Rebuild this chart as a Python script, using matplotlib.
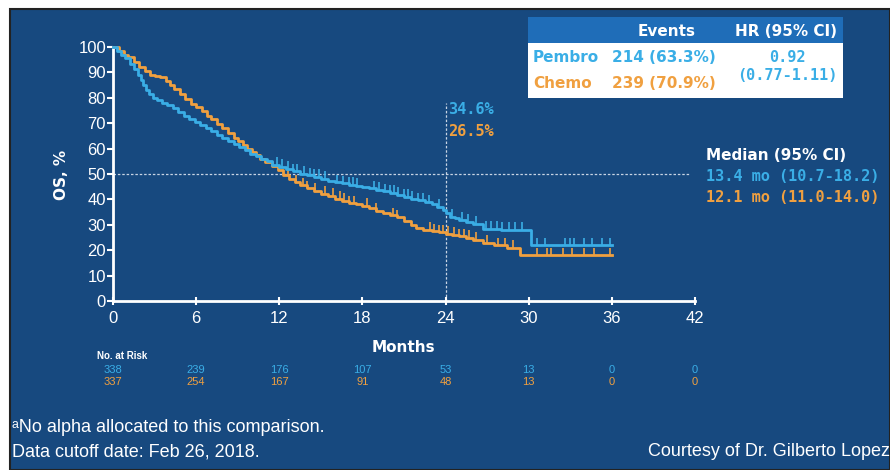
import matplotlib
matplotlib.use("Agg")
import matplotlib.pyplot as plt
from matplotlib.patches import Rectangle
import numpy as np

# Kaplan-Meier estimates (months, % alive)
pembro_t = [0, 0.3, 0.6, 0.9, 1.2, 1.5, 1.8, 2.0, 2.2, 2.4,
            2.6, 2.9, 3.2, 3.5, 3.9, 4.3, 4.7, 5.1, 5.5, 5.9,
            6.3, 6.7, 7.1, 7.5, 7.9, 8.3, 8.7, 9.1, 9.5, 9.9,
            10.3, 10.7, 11.1, 11.5, 12.0, 12.5, 13.0, 13.5, 14.0, 14.5,
            15.0, 15.5, 16.0, 16.5, 17.0, 17.5, 18.0, 18.5, 19.0, 19.5,
            20.0, 20.5, 21.0, 21.5, 22.0, 22.5, 23.0, 23.4, 23.8, 24.0,
            24.3, 24.7, 25.0, 25.5, 26.0, 26.7, 28.0, 30.2, 36.0]
pembro_s = [100, 98.5, 97, 95.5, 93.5, 91.5, 89, 87, 85, 83,
            81.5, 80, 79, 78, 77, 75.8, 74.5, 73, 71.8, 70.6,
            69.4, 68, 66.8, 65.5, 64.3, 63, 61.8, 60.5, 59.3, 58,
            57, 56, 55, 53.5, 52.8, 52, 51, 50, 49.5, 48.8,
            48, 47.3, 46.8, 46.3, 45.8, 45.3, 44.8, 44.3, 43.8, 43.2,
            42.5, 41.8, 41, 40.3, 39.6, 38.8, 38, 37.2, 35.8, 34.6,
            33.2, 32.5, 32, 31.2, 30.5, 28.5, 28, 22, 22]

chemo_t = [0, 0.4, 0.8, 1.1, 1.5, 1.9, 2.3, 2.7, 3.0, 3.4,
           3.8, 4.1, 4.4, 4.8, 5.2, 5.6, 6.0, 6.4, 6.8, 7.1,
           7.5, 7.9, 8.3, 8.7, 9.0, 9.4, 9.7, 10.0, 10.3, 10.6,
           11.0, 11.5, 11.9, 12.3, 12.7, 13.1, 13.5, 14.0, 14.5, 15.0,
           15.5, 16.0, 16.5, 17.0, 17.5, 18.0, 18.5, 19.0, 19.5, 20.0,
           20.5, 21.0, 21.5, 21.9, 22.4, 23.0, 23.5, 24.0, 24.5, 25.0,
           25.5, 26.0, 26.7, 27.5, 28.4, 29.4, 36.0]
chemo_s = [100, 98.5, 97, 96, 94, 92, 90.5, 89, 88.5, 88,
           86.5, 85, 83.5, 81.5, 79.5, 77.5, 76.3, 75, 73, 71.5,
           69.5, 68, 66, 64, 62.8, 61.3, 60, 58.8, 57.3, 56,
           54.8, 53, 51.5, 49.5, 48, 46.8, 45.5, 44.3, 43.3, 42.3,
           41.3, 40.3, 39.5, 38.5, 38, 37.5, 36.5, 35.5, 34.6, 33.8,
           33, 31.5, 30, 28.7, 28, 27.5, 27, 26.5, 26, 25.5,
           24.8, 24, 22.8, 22, 21, 18, 18]

# censoring times
pembro_cens = [11.8, 12.2, 12.6, 13.0, 13.3, 13.8, 14.2, 14.5, 14.9, 15.3, 16.2,
               16.6, 17.0, 17.3, 17.6, 18.8, 19.2, 19.6, 20.0, 20.3, 20.6, 21.0,
               21.3, 21.6, 22.0, 22.4, 22.8, 23.5, 24.5, 25.2, 25.6, 26.2, 26.9,
               27.3, 27.7, 28.1, 28.6, 29.0, 29.5, 30.6, 31.2, 32.6, 33.0, 33.3,
               34.0, 34.6, 35.3, 35.9]
chemo_cens = [12.6, 13.2, 13.7, 14.0, 14.6, 15.3, 15.9, 16.4, 16.7, 17.0, 17.4,
              18.3, 19.0, 20.2, 20.5, 22.9, 23.2, 23.5, 23.8, 24.2, 24.6, 25.0,
              25.3, 25.7, 26.2, 27.0, 27.8, 28.3, 28.9, 30.6, 31.3, 31.6, 32.5,
              33.1, 34.0, 34.7, 35.9]

risk_months = [0, 6, 12, 18, 24, 30, 36, 42]
pembro_risk = [338, 239, 176, 107, 53, 13, 0, 0]
chemo_risk = [337, 254, 167, 91, 48, 13, 0, 0]

BG = '#17497f'
BLUE = '#3aaee6'
ORANGE = '#f0a040'
HEADER = '#1f6db8'
W, H = 890, 470


def px(x, y):
    return x / W, 1 - y / H


fig = plt.figure(figsize=(8.9, 4.7), dpi=100, facecolor='white')
fig.add_artist(Rectangle(px(10, 470), (W - 10) / W, (470 - 9) / H,
                         transform=fig.transFigure, facecolor=BG,
                         edgecolor='#222222', linewidth=1.5, zorder=0))

x0, y0 = px(113, 301)
x1, y1 = px(695, 47)
ax = fig.add_axes([x0, y0, x1 - x0, y1 - y0])
ax.set_facecolor('none')
ax.set_xlim(0, 42)
ax.set_ylim(0, 100)

# reference lines at median and 24 months
ax.plot([0, 41.6], [50, 50], color='#c8d4e4', lw=0.9, ls=(0, (2, 1.5)), zorder=1,
        clip_on=False)
ax.plot([24, 24], [0, 78], color='#c8d4e4', lw=0.9, ls=(0, (2, 1.5)), zorder=1,
        clip_on=False)


def censor_y(t, s, times):
    idx = np.searchsorted(t, times, side='right') - 1
    return np.asarray(s)[idx]


for t, s, cens, col in [(chemo_t, chemo_s, chemo_cens, ORANGE),
                        (pembro_t, pembro_s, pembro_cens, BLUE)]:
    ax.plot(t, s, drawstyle='steps-post', color=col, lw=2, zorder=3,
            clip_on=False)
    cy = censor_y(t, s, cens)
    ax.vlines(cens, cy, cy + 3, color=col, lw=1.2, zorder=3)

for side in ['top', 'right']:
    ax.spines[side].set_visible(False)
for side in ['left', 'bottom']:
    ax.spines[side].set_color('white')
    ax.spines[side].set_linewidth(2)

ax.set_xticks(risk_months)
ax.set_yticks(range(0, 101, 10))
ax.tick_params(axis='y', colors='white', direction='out', length=4, width=1.5,
               labelsize=12, pad=1)
ax.tick_params(axis='x', colors='white', direction='inout', length=6, width=1.5,
               labelsize=12, pad=4)
for lab in ax.get_xticklabels() + ax.get_yticklabels():
    lab.set_fontfamily('Liberation Sans')

fig.text(*px(62, 175), 'OS, %', color='white', fontsize=11, fontweight='bold',
         rotation=90, ha='center', va='center')
fig.text(*px(403, 348), 'Months', color='white', fontsize=11, fontweight='bold',
         ha='center', va='center')

# number at risk
small = ['Liberation Sans', 'DejaVu Sans']
fig.text(*px(97, 356), 'No. at Risk', color='white', fontsize=7,
         fontweight='bold', family=small, ha='left', va='center')
for m, p, c in zip(risk_months, pembro_risk, chemo_risk):
    xf = ax.transData.transform((m, 0))[0] / fig.bbox.width
    fig.text(xf, 1 - 370 / H, str(p), color=BLUE, fontsize=8, family=small,
             ha='center', va='center')
    fig.text(xf, 1 - 382 / H, str(c), color=ORANGE, fontsize=8, family=small,
             ha='center', va='center')

# 24-month rates
mono = ['DejaVu Sans Mono']
fig.text(*px(448, 110), '34.6%', color=BLUE, fontsize=11, fontweight='bold',
         family=mono, ha='left', va='center')
fig.text(*px(448, 131), '26.5%', color=ORANGE, fontsize=11, fontweight='bold',
         family=mono, ha='left', va='center')

# medians
fig.text(*px(706, 156), 'Median (95% CI)', color='white', fontsize=11,
         fontweight='bold', ha='left', va='center')
fig.text(*px(706, 177), '13.4 mo (10.7-18.2)', color=BLUE, fontsize=11,
         fontweight='bold', family=mono, ha='left', va='center')
fig.text(*px(706, 197), '12.1 mo (11.0-14.0)', color=ORANGE, fontsize=11,
         fontweight='bold', family=mono, ha='left', va='center')

# events / HR table
fig.add_artist(Rectangle(px(528, 98), 315 / W, 55 / H, transform=fig.transFigure,
                         facecolor='white', edgecolor='none', zorder=1))
fig.add_artist(Rectangle(px(528, 43), 315 / W, 26 / H, transform=fig.transFigure,
                         facecolor=HEADER, edgecolor='none', zorder=1))
fig.text(*px(667, 31), 'Events', color='white', fontsize=11, fontweight='bold',
         ha='center', va='center')
fig.text(*px(786, 31), 'HR (95% CI)', color='white', fontsize=11,
         fontweight='bold', ha='center', va='center')
fig.text(*px(533, 58), 'Pembro', color=BLUE, fontsize=11, fontweight='bold',
         ha='left', va='center')
fig.text(*px(533, 83), 'Chemo', color=ORANGE, fontsize=11, fontweight='bold',
         ha='left', va='center')
fig.text(*px(664, 58), '214 (63.3%)', color=BLUE, fontsize=11, fontweight='bold',
         ha='center', va='center')
fig.text(*px(664, 83), '239 (70.9%)', color=ORANGE, fontsize=11,
         fontweight='bold', ha='center', va='center')
fig.text(*px(787, 58), '0.92', color=BLUE, fontsize=11, fontweight='bold',
         family=mono, ha='center', va='center')
fig.text(*px(787, 76), '(0.77-1.11)', color=BLUE, fontsize=11,
         fontweight='bold', family=mono, ha='center', va='center')

# footnotes
foot = ['Liberation Sans', 'DejaVu Sans']
fig.text(*px(12, 427), '\u1d43No alpha allocated to this comparison.',
         color='white', fontsize=13, family=foot, ha='left', va='center')
fig.text(*px(12, 452), 'Data cutoff date: Feb 26, 2018.', color='white',
         fontsize=13, family=foot, ha='left', va='center')
fig.text(*px(890, 452), 'Courtesy of Dr. Gilberto Lopez', color='white',
         fontsize=13, family=foot, ha='right', va='center')

fig.savefig('out.png', dpi=100, facecolor='white')
